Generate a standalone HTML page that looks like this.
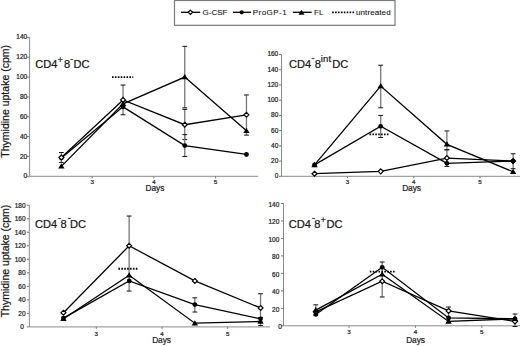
<!DOCTYPE html>
<html><head><meta charset="utf-8"><style>
html,body{margin:0;padding:0;background:#fff;}
body{width:520px;height:346px;overflow:hidden;}
svg{display:block;}
text{font-family:"Liberation Sans",sans-serif;fill:#222;stroke:#222;stroke-width:0.22px;}
.tk{font-size:6.5px;}
.days{font-size:8.4px;letter-spacing:-0.1px;}
.tx{font-size:6.2px;}
.tm{font-size:11.1px;fill:#111;}
.ts{font-size:8.5px;fill:#111;}
.th{font-size:9px;fill:#111;stroke-width:0.3px;}
.ti{font-size:9.5px;letter-spacing:0.3px;fill:#111;}
.ylab{font-size:10.5px;fill:#111;}
.leg{font-size:8px;fill:#111;stroke-width:0.1px;}
</style></head><body>
<svg width="520" height="346" viewBox="0 0 520 346">
<rect width="520" height="346" fill="#fff"/>
<line x1="29.6" y1="37.42" x2="29.6" y2="176.3" stroke="#8a8a8a" stroke-width="1"/>
<line x1="29.6" y1="176.3" x2="258.0" y2="176.3" stroke="#8a8a8a" stroke-width="1"/>
<line x1="27.1" y1="176.30" x2="29.6" y2="176.30" stroke="#777" stroke-width="1"/>
<text x="27.15" y="178.34" class="tk" text-anchor="end">0</text>
<line x1="27.1" y1="156.46" x2="29.6" y2="156.46" stroke="#777" stroke-width="1"/>
<text x="27.15" y="158.50" class="tk" text-anchor="end">20</text>
<line x1="27.1" y1="136.62" x2="29.6" y2="136.62" stroke="#777" stroke-width="1"/>
<text x="27.15" y="138.66" class="tk" text-anchor="end">40</text>
<line x1="27.1" y1="116.78" x2="29.6" y2="116.78" stroke="#777" stroke-width="1"/>
<text x="27.15" y="118.82" class="tk" text-anchor="end">60</text>
<line x1="27.1" y1="96.94" x2="29.6" y2="96.94" stroke="#777" stroke-width="1"/>
<text x="27.15" y="98.98" class="tk" text-anchor="end">80</text>
<line x1="27.1" y1="77.10" x2="29.6" y2="77.10" stroke="#777" stroke-width="1"/>
<text x="27.15" y="79.14" class="tk" text-anchor="end">100</text>
<line x1="27.1" y1="57.26" x2="29.6" y2="57.26" stroke="#777" stroke-width="1"/>
<text x="27.15" y="59.30" class="tk" text-anchor="end">120</text>
<line x1="27.1" y1="37.42" x2="29.6" y2="37.42" stroke="#777" stroke-width="1"/>
<text x="27.15" y="39.46" class="tk" text-anchor="end">140</text>
<line x1="92.20" y1="176.3" x2="92.20" y2="178.3" stroke="#777" stroke-width="1"/>
<text x="92.20" y="184.0" class="tx" text-anchor="middle">3</text>
<line x1="153.90" y1="176.3" x2="153.90" y2="178.3" stroke="#777" stroke-width="1"/>
<text x="153.90" y="184.0" class="tx" text-anchor="middle">4</text>
<line x1="215.60" y1="176.3" x2="215.60" y2="178.3" stroke="#777" stroke-width="1"/>
<text x="215.60" y="184.0" class="tx" text-anchor="middle">5</text>
<text x="154.9" y="190.8" class="days" text-anchor="middle">Days</text>
<text x="35.15" y="67.8" class="tm">CD4</text>
<text x="57.7" y="62.5" class="ts">+</text>
<text x="63.9" y="67.8" class="tm">8</text>
<text x="70.35" y="61.6" class="th">-</text>
<text x="73.5" y="67.8" class="tm">DC</text>
<text x="0" y="0" class="ylab" text-anchor="middle" transform="translate(8.5 101.35) rotate(-90)">Thymidine uptake (cpm)</text>
<line x1="61.35" y1="152.49" x2="61.35" y2="162.41" stroke="#777" stroke-width="1.3"/>
<line x1="58.95" y1="152.49" x2="63.75" y2="152.49" stroke="#111" stroke-width="1.0"/>
<line x1="58.95" y1="162.41" x2="63.75" y2="162.41" stroke="#111" stroke-width="1.0"/>
<line x1="123.05" y1="85.04" x2="123.05" y2="114.80" stroke="#777" stroke-width="1.3"/>
<line x1="120.65" y1="85.04" x2="125.45" y2="85.04" stroke="#111" stroke-width="1.0"/>
<line x1="120.65" y1="114.80" x2="125.45" y2="114.80" stroke="#111" stroke-width="1.0"/>
<line x1="184.75" y1="46.35" x2="184.75" y2="107.85" stroke="#777" stroke-width="1.3"/>
<line x1="182.35" y1="46.35" x2="187.15" y2="46.35" stroke="#111" stroke-width="1.0"/>
<line x1="182.35" y1="107.85" x2="187.15" y2="107.85" stroke="#111" stroke-width="1.0"/>
<line x1="184.75" y1="109.34" x2="184.75" y2="139.60" stroke="#777" stroke-width="1.3"/>
<line x1="182.35" y1="109.34" x2="187.15" y2="109.34" stroke="#111" stroke-width="1.0"/>
<line x1="182.35" y1="139.60" x2="187.15" y2="139.60" stroke="#111" stroke-width="1.0"/>
<line x1="184.75" y1="134.64" x2="184.75" y2="156.46" stroke="#777" stroke-width="1.3"/>
<line x1="182.35" y1="134.64" x2="187.15" y2="134.64" stroke="#111" stroke-width="1.0"/>
<line x1="182.35" y1="156.46" x2="187.15" y2="156.46" stroke="#111" stroke-width="1.0"/>
<line x1="246.45" y1="94.96" x2="246.45" y2="135.13" stroke="#777" stroke-width="1.3"/>
<line x1="244.05" y1="94.96" x2="248.85" y2="94.96" stroke="#111" stroke-width="1.0"/>
<line x1="244.05" y1="135.13" x2="248.85" y2="135.13" stroke="#111" stroke-width="1.0"/>
<line x1="112" y1="77.10" x2="133.2" y2="77.10" stroke="#000" stroke-width="1.8" stroke-dasharray="1.6 1.3"/>
<polyline points="61.35,157.95 123.05,106.86 184.75,145.55 246.45,154.48" fill="none" stroke="#000" stroke-width="1.3" stroke-linejoin="miter"/>
<circle cx="61.35" cy="157.95" r="2.4" fill="#000"/>
<circle cx="123.05" cy="106.86" r="2.4" fill="#000"/>
<circle cx="184.75" cy="145.55" r="2.4" fill="#000"/>
<circle cx="246.45" cy="154.48" r="2.4" fill="#000"/>
<polyline points="61.35,157.45 123.05,99.92 184.75,124.72 246.45,114.80" fill="none" stroke="#000" stroke-width="1.3" stroke-linejoin="miter"/>
<path d="M61.35 155.00L63.80 157.45L61.35 159.90L58.90 157.45Z" fill="#fff" stroke="#000" stroke-width="1.2"/>
<path d="M123.05 97.47L125.50 99.92L123.05 102.37L120.60 99.92Z" fill="#fff" stroke="#000" stroke-width="1.2"/>
<path d="M184.75 122.27L187.20 124.72L184.75 127.17L182.30 124.72Z" fill="#fff" stroke="#000" stroke-width="1.2"/>
<path d="M246.45 112.35L248.90 114.80L246.45 117.25L244.00 114.80Z" fill="#fff" stroke="#000" stroke-width="1.2"/>
<polyline points="61.35,166.38 123.05,103.88 184.75,77.10 246.45,130.67" fill="none" stroke="#000" stroke-width="1.3" stroke-linejoin="miter"/>
<path d="M61.35 163.34L64.55 168.62L58.15 168.62Z" fill="#000"/>
<path d="M123.05 100.84L126.25 106.12L119.85 106.12Z" fill="#000"/>
<path d="M184.75 74.06L187.95 79.34L181.55 79.34Z" fill="#000"/>
<path d="M246.45 127.63L249.65 132.91L243.25 132.91Z" fill="#000"/>
<line x1="281.5" y1="54.54" x2="281.5" y2="176.3" stroke="#8a8a8a" stroke-width="1"/>
<line x1="281.5" y1="176.3" x2="520.0" y2="176.3" stroke="#8a8a8a" stroke-width="1"/>
<line x1="279.0" y1="176.30" x2="281.5" y2="176.30" stroke="#777" stroke-width="1"/>
<text x="278.25" y="178.24" class="tk" text-anchor="end">0</text>
<line x1="279.0" y1="161.08" x2="281.5" y2="161.08" stroke="#777" stroke-width="1"/>
<text x="278.25" y="163.02" class="tk" text-anchor="end">20</text>
<line x1="279.0" y1="145.86" x2="281.5" y2="145.86" stroke="#777" stroke-width="1"/>
<text x="278.25" y="147.80" class="tk" text-anchor="end">40</text>
<line x1="279.0" y1="130.64" x2="281.5" y2="130.64" stroke="#777" stroke-width="1"/>
<text x="278.25" y="132.58" class="tk" text-anchor="end">60</text>
<line x1="279.0" y1="115.42" x2="281.5" y2="115.42" stroke="#777" stroke-width="1"/>
<text x="278.25" y="117.36" class="tk" text-anchor="end">80</text>
<line x1="279.0" y1="100.20" x2="281.5" y2="100.20" stroke="#777" stroke-width="1"/>
<text x="278.25" y="102.14" class="tk" text-anchor="end">100</text>
<line x1="279.0" y1="84.98" x2="281.5" y2="84.98" stroke="#777" stroke-width="1"/>
<text x="278.25" y="86.92" class="tk" text-anchor="end">120</text>
<line x1="279.0" y1="69.76" x2="281.5" y2="69.76" stroke="#777" stroke-width="1"/>
<text x="278.25" y="71.70" class="tk" text-anchor="end">140</text>
<line x1="279.0" y1="54.54" x2="281.5" y2="54.54" stroke="#777" stroke-width="1"/>
<text x="278.25" y="56.48" class="tk" text-anchor="end">160</text>
<line x1="347.60" y1="176.3" x2="347.60" y2="178.3" stroke="#777" stroke-width="1"/>
<text x="347.60" y="184.3" class="tx" text-anchor="middle">3</text>
<line x1="413.80" y1="176.3" x2="413.80" y2="178.3" stroke="#777" stroke-width="1"/>
<text x="413.80" y="184.3" class="tx" text-anchor="middle">4</text>
<line x1="480.00" y1="176.3" x2="480.00" y2="178.3" stroke="#777" stroke-width="1"/>
<text x="480.00" y="184.3" class="tx" text-anchor="middle">5</text>
<text x="411.5" y="191.0" class="days" text-anchor="middle">Days</text>
<text x="288.95" y="68.2" class="tm">CD4</text>
<text x="311.55" y="61.3" class="th">-</text>
<text x="314.8" y="68.2" class="tm">8</text>
<text x="320.64" y="61.5" class="ti">int</text>
<text x="332.2" y="68.2" class="tm">DC</text>
<line x1="380.70" y1="65.19" x2="380.70" y2="107.81" stroke="#777" stroke-width="1.3"/>
<line x1="378.30" y1="65.19" x2="383.10" y2="65.19" stroke="#111" stroke-width="1.0"/>
<line x1="378.30" y1="107.81" x2="383.10" y2="107.81" stroke="#111" stroke-width="1.0"/>
<line x1="380.70" y1="115.42" x2="380.70" y2="137.49" stroke="#777" stroke-width="1.3"/>
<line x1="378.30" y1="115.42" x2="383.10" y2="115.42" stroke="#111" stroke-width="1.0"/>
<line x1="378.30" y1="137.49" x2="383.10" y2="137.49" stroke="#111" stroke-width="1.0"/>
<line x1="446.90" y1="130.94" x2="446.90" y2="149.82" stroke="#777" stroke-width="1.3"/>
<line x1="444.50" y1="130.94" x2="449.30" y2="130.94" stroke="#111" stroke-width="1.0"/>
<line x1="444.50" y1="149.82" x2="449.30" y2="149.82" stroke="#111" stroke-width="1.0"/>
<line x1="446.90" y1="149.82" x2="446.90" y2="166.41" stroke="#777" stroke-width="1.3"/>
<line x1="444.50" y1="149.82" x2="449.30" y2="149.82" stroke="#111" stroke-width="1.0"/>
<line x1="444.50" y1="166.41" x2="449.30" y2="166.41" stroke="#111" stroke-width="1.0"/>
<line x1="513.10" y1="153.77" x2="513.10" y2="168.69" stroke="#777" stroke-width="1.3"/>
<line x1="510.70" y1="153.77" x2="515.50" y2="153.77" stroke="#111" stroke-width="1.0"/>
<line x1="510.70" y1="168.69" x2="515.50" y2="168.69" stroke="#111" stroke-width="1.0"/>
<line x1="369.5" y1="134.44" x2="389" y2="134.44" stroke="#000" stroke-width="1.8" stroke-dasharray="1.6 1.3"/>
<polyline points="314.50,173.71 380.70,171.35 446.90,158.04 513.10,161.08" fill="none" stroke="#000" stroke-width="1.3" stroke-linejoin="miter"/>
<path d="M314.50 171.26L316.95 173.71L314.50 176.16L312.05 173.71Z" fill="#fff" stroke="#000" stroke-width="1.2"/>
<path d="M380.70 168.90L383.15 171.35L380.70 173.80L378.25 171.35Z" fill="#fff" stroke="#000" stroke-width="1.2"/>
<path d="M446.90 155.59L449.35 158.04L446.90 160.49L444.45 158.04Z" fill="#fff" stroke="#000" stroke-width="1.2"/>
<path d="M513.10 158.63L515.55 161.08L513.10 163.53L510.65 161.08Z" fill="#fff" stroke="#000" stroke-width="1.2"/>
<polyline points="314.50,164.89 380.70,126.30 446.90,163.36 513.10,161.08" fill="none" stroke="#000" stroke-width="1.3" stroke-linejoin="miter"/>
<circle cx="314.50" cy="164.89" r="2.4" fill="#000"/>
<circle cx="380.70" cy="126.30" r="2.4" fill="#000"/>
<circle cx="446.90" cy="163.36" r="2.4" fill="#000"/>
<circle cx="513.10" cy="161.08" r="2.4" fill="#000"/>
<polyline points="314.50,164.89 380.70,86.12 446.90,144.34 513.10,171.73" fill="none" stroke="#000" stroke-width="1.3" stroke-linejoin="miter"/>
<path d="M314.50 161.85L317.70 167.13L311.30 167.13Z" fill="#000"/>
<path d="M380.70 83.08L383.90 88.36L377.50 88.36Z" fill="#000"/>
<path d="M446.90 141.30L450.10 146.58L443.70 146.58Z" fill="#000"/>
<path d="M513.10 168.69L516.30 173.97L509.90 173.97Z" fill="#000"/>
<line x1="29.3" y1="205.22" x2="29.3" y2="326.9" stroke="#8a8a8a" stroke-width="1"/>
<line x1="29.3" y1="326.9" x2="270.0" y2="326.9" stroke="#8a8a8a" stroke-width="1"/>
<line x1="26.8" y1="326.90" x2="29.3" y2="326.90" stroke="#777" stroke-width="1"/>
<text x="23.75" y="329.44" class="tk" text-anchor="end">0</text>
<line x1="26.8" y1="313.38" x2="29.3" y2="313.38" stroke="#777" stroke-width="1"/>
<text x="25.55" y="315.92" class="tk" text-anchor="end">20</text>
<line x1="26.8" y1="299.86" x2="29.3" y2="299.86" stroke="#777" stroke-width="1"/>
<text x="25.55" y="302.40" class="tk" text-anchor="end">40</text>
<line x1="26.8" y1="286.34" x2="29.3" y2="286.34" stroke="#777" stroke-width="1"/>
<text x="25.55" y="288.88" class="tk" text-anchor="end">60</text>
<line x1="26.8" y1="272.82" x2="29.3" y2="272.82" stroke="#777" stroke-width="1"/>
<text x="25.55" y="275.36" class="tk" text-anchor="end">80</text>
<line x1="26.8" y1="259.30" x2="29.3" y2="259.30" stroke="#777" stroke-width="1"/>
<text x="25.55" y="261.84" class="tk" text-anchor="end">100</text>
<line x1="26.8" y1="245.78" x2="29.3" y2="245.78" stroke="#777" stroke-width="1"/>
<text x="25.55" y="248.32" class="tk" text-anchor="end">120</text>
<line x1="26.8" y1="232.26" x2="29.3" y2="232.26" stroke="#777" stroke-width="1"/>
<text x="25.55" y="234.80" class="tk" text-anchor="end">140</text>
<line x1="26.8" y1="218.74" x2="29.3" y2="218.74" stroke="#777" stroke-width="1"/>
<text x="25.55" y="221.28" class="tk" text-anchor="end">160</text>
<line x1="26.8" y1="205.22" x2="29.3" y2="205.22" stroke="#777" stroke-width="1"/>
<text x="25.55" y="207.76" class="tk" text-anchor="end">180</text>
<line x1="96.30" y1="326.9" x2="96.30" y2="328.9" stroke="#777" stroke-width="1"/>
<text x="96.30" y="336.2" class="tx" text-anchor="middle">3</text>
<line x1="162.00" y1="326.9" x2="162.00" y2="328.9" stroke="#777" stroke-width="1"/>
<text x="162.00" y="336.2" class="tx" text-anchor="middle">4</text>
<line x1="227.70" y1="326.9" x2="227.70" y2="328.9" stroke="#777" stroke-width="1"/>
<text x="227.70" y="336.2" class="tx" text-anchor="middle">5</text>
<text x="161.5" y="342.8" class="days" text-anchor="middle">Days</text>
<text x="34.95" y="227.6" class="tm">CD4</text>
<text x="57.95" y="221.0" class="th">-</text>
<text x="60.6" y="227.6" class="tm">8</text>
<text x="67.65" y="221.0" class="th">-</text>
<text x="70.1" y="227.6" class="tm">DC</text>
<text x="0" y="0" class="ylab" text-anchor="middle" transform="translate(8.5 261.0) rotate(-90)">Thymidine uptake (cpm)</text>
<line x1="129.15" y1="216.04" x2="129.15" y2="291.07" stroke="#777" stroke-width="1.3"/>
<line x1="126.75" y1="216.04" x2="131.55" y2="216.04" stroke="#111" stroke-width="1.0"/>
<line x1="126.75" y1="291.07" x2="131.55" y2="291.07" stroke="#111" stroke-width="1.0"/>
<line x1="194.85" y1="297.83" x2="194.85" y2="312.03" stroke="#777" stroke-width="1.3"/>
<line x1="192.45" y1="297.83" x2="197.25" y2="297.83" stroke="#111" stroke-width="1.0"/>
<line x1="192.45" y1="312.03" x2="197.25" y2="312.03" stroke="#111" stroke-width="1.0"/>
<line x1="260.55" y1="293.78" x2="260.55" y2="322.17" stroke="#777" stroke-width="1.3"/>
<line x1="258.15" y1="293.78" x2="262.95" y2="293.78" stroke="#111" stroke-width="1.0"/>
<line x1="258.15" y1="322.17" x2="262.95" y2="322.17" stroke="#111" stroke-width="1.0"/>
<line x1="260.55" y1="317.44" x2="260.55" y2="325.55" stroke="#777" stroke-width="1.3"/>
<line x1="258.15" y1="317.44" x2="262.95" y2="317.44" stroke="#111" stroke-width="1.0"/>
<line x1="258.15" y1="325.55" x2="262.95" y2="325.55" stroke="#111" stroke-width="1.0"/>
<line x1="118.4" y1="268.76" x2="138.3" y2="268.76" stroke="#000" stroke-width="1.8" stroke-dasharray="1.6 1.3"/>
<polyline points="63.45,312.70 129.15,245.78 194.85,280.93 260.55,307.97" fill="none" stroke="#000" stroke-width="1.3" stroke-linejoin="miter"/>
<path d="M63.45 310.25L65.90 312.70L63.45 315.15L61.00 312.70Z" fill="#fff" stroke="#000" stroke-width="1.2"/>
<path d="M129.15 243.33L131.60 245.78L129.15 248.23L126.70 245.78Z" fill="#fff" stroke="#000" stroke-width="1.2"/>
<path d="M194.85 278.48L197.30 280.93L194.85 283.38L192.40 280.93Z" fill="#fff" stroke="#000" stroke-width="1.2"/>
<path d="M260.55 305.52L263.00 307.97L260.55 310.42L258.10 307.97Z" fill="#fff" stroke="#000" stroke-width="1.2"/>
<polyline points="63.45,318.11 129.15,280.93 194.85,304.59 260.55,318.79" fill="none" stroke="#000" stroke-width="1.3" stroke-linejoin="miter"/>
<circle cx="63.45" cy="318.11" r="2.4" fill="#000"/>
<circle cx="129.15" cy="280.93" r="2.4" fill="#000"/>
<circle cx="194.85" cy="304.59" r="2.4" fill="#000"/>
<circle cx="260.55" cy="318.79" r="2.4" fill="#000"/>
<polyline points="63.45,318.79 129.15,275.19 194.85,323.18 260.55,321.49" fill="none" stroke="#000" stroke-width="1.3" stroke-linejoin="miter"/>
<path d="M63.45 315.75L66.65 321.03L60.25 321.03Z" fill="#000"/>
<path d="M129.15 272.15L132.35 277.43L125.95 277.43Z" fill="#000"/>
<path d="M194.85 320.14L198.05 325.42L191.65 325.42Z" fill="#000"/>
<path d="M260.55 318.45L263.75 323.73L257.35 323.73Z" fill="#000"/>
<line x1="283.5" y1="203.51" x2="283.5" y2="325.8" stroke="#8a8a8a" stroke-width="1"/>
<line x1="283.5" y1="325.8" x2="520.0" y2="325.8" stroke="#8a8a8a" stroke-width="1"/>
<line x1="281.0" y1="325.80" x2="283.5" y2="325.80" stroke="#777" stroke-width="1"/>
<text x="281.75" y="329.04" class="tk" text-anchor="end">0</text>
<line x1="281.0" y1="308.33" x2="283.5" y2="308.33" stroke="#777" stroke-width="1"/>
<text x="279.35" y="311.57" class="tk" text-anchor="end">20</text>
<line x1="281.0" y1="290.86" x2="283.5" y2="290.86" stroke="#777" stroke-width="1"/>
<text x="279.35" y="294.10" class="tk" text-anchor="end">40</text>
<line x1="281.0" y1="273.39" x2="283.5" y2="273.39" stroke="#777" stroke-width="1"/>
<text x="279.35" y="276.63" class="tk" text-anchor="end">60</text>
<line x1="281.0" y1="255.92" x2="283.5" y2="255.92" stroke="#777" stroke-width="1"/>
<text x="279.35" y="259.16" class="tk" text-anchor="end">80</text>
<line x1="281.0" y1="238.45" x2="283.5" y2="238.45" stroke="#777" stroke-width="1"/>
<text x="279.35" y="241.69" class="tk" text-anchor="end">100</text>
<line x1="281.0" y1="220.98" x2="283.5" y2="220.98" stroke="#777" stroke-width="1"/>
<text x="279.35" y="224.22" class="tk" text-anchor="end">120</text>
<line x1="281.0" y1="203.51" x2="283.5" y2="203.51" stroke="#777" stroke-width="1"/>
<text x="279.35" y="206.75" class="tk" text-anchor="end">140</text>
<line x1="349.00" y1="325.8" x2="349.00" y2="327.8" stroke="#777" stroke-width="1"/>
<text x="349.00" y="334.2" class="tx" text-anchor="middle">3</text>
<line x1="415.40" y1="325.8" x2="415.40" y2="327.8" stroke="#777" stroke-width="1"/>
<text x="415.40" y="334.2" class="tx" text-anchor="middle">4</text>
<line x1="481.80" y1="325.8" x2="481.80" y2="327.8" stroke="#777" stroke-width="1"/>
<text x="481.80" y="334.2" class="tx" text-anchor="middle">5</text>
<text x="415.5" y="342.8" class="days" text-anchor="middle">Days</text>
<text x="288.65" y="227.6" class="tm">CD4</text>
<text x="311.95" y="221.0" class="th">-</text>
<text x="314.3" y="227.6" class="tm">8</text>
<text x="320.8" y="223.2" class="ts">+</text>
<text x="326.6" y="227.6" class="tm">DC</text>
<line x1="315.80" y1="304.84" x2="315.80" y2="315.32" stroke="#777" stroke-width="1.3"/>
<line x1="313.40" y1="304.84" x2="318.20" y2="304.84" stroke="#111" stroke-width="1.0"/>
<line x1="313.40" y1="315.32" x2="318.20" y2="315.32" stroke="#111" stroke-width="1.0"/>
<line x1="382.20" y1="262.03" x2="382.20" y2="296.97" stroke="#777" stroke-width="1.3"/>
<line x1="379.80" y1="262.03" x2="384.60" y2="262.03" stroke="#111" stroke-width="1.0"/>
<line x1="379.80" y1="296.97" x2="384.60" y2="296.97" stroke="#111" stroke-width="1.0"/>
<line x1="448.60" y1="307.02" x2="448.60" y2="322.31" stroke="#777" stroke-width="1.3"/>
<line x1="446.20" y1="307.02" x2="451.00" y2="307.02" stroke="#111" stroke-width="1.0"/>
<line x1="446.20" y1="322.31" x2="451.00" y2="322.31" stroke="#111" stroke-width="1.0"/>
<line x1="515.00" y1="314.01" x2="515.00" y2="326.50" stroke="#777" stroke-width="1.3"/>
<line x1="512.60" y1="314.01" x2="517.40" y2="314.01" stroke="#111" stroke-width="1.0"/>
<line x1="512.60" y1="326.50" x2="517.40" y2="326.50" stroke="#111" stroke-width="1.0"/>
<line x1="369.8" y1="271.64" x2="396" y2="271.64" stroke="#000" stroke-width="1.8" stroke-dasharray="1.6 1.3"/>
<polyline points="315.80,311.82 382.20,281.25 448.60,310.95 515.00,321.43" fill="none" stroke="#000" stroke-width="1.3" stroke-linejoin="miter"/>
<path d="M315.80 309.37L318.25 311.82L315.80 314.27L313.35 311.82Z" fill="#fff" stroke="#000" stroke-width="1.2"/>
<path d="M382.20 278.80L384.65 281.25L382.20 283.70L379.75 281.25Z" fill="#fff" stroke="#000" stroke-width="1.2"/>
<path d="M448.60 308.50L451.05 310.95L448.60 313.40L446.15 310.95Z" fill="#fff" stroke="#000" stroke-width="1.2"/>
<path d="M515.00 318.98L517.45 321.43L515.00 323.88L512.55 321.43Z" fill="#fff" stroke="#000" stroke-width="1.2"/>
<polyline points="315.80,314.44 382.20,267.28 448.60,317.94 515.00,318.81" fill="none" stroke="#000" stroke-width="1.3" stroke-linejoin="miter"/>
<circle cx="315.80" cy="314.44" r="2.4" fill="#000"/>
<circle cx="382.20" cy="267.28" r="2.4" fill="#000"/>
<circle cx="448.60" cy="317.94" r="2.4" fill="#000"/>
<circle cx="515.00" cy="318.81" r="2.4" fill="#000"/>
<polyline points="315.80,310.08 382.20,274.26 448.60,321.43 515.00,318.81" fill="none" stroke="#000" stroke-width="1.3" stroke-linejoin="miter"/>
<path d="M315.80 307.04L319.00 312.32L312.60 312.32Z" fill="#000"/>
<path d="M382.20 271.22L385.40 276.50L379.00 276.50Z" fill="#000"/>
<path d="M448.60 318.39L451.80 323.67L445.40 323.67Z" fill="#000"/>
<path d="M515.00 315.77L518.20 321.05L511.80 321.05Z" fill="#000"/>
<rect x="174.5" y="0.5" width="220.5" height="24.8" fill="#fff" stroke="#7a7a7a" stroke-width="1.2"/>
<line x1="181" y1="12.3" x2="200.2" y2="12.3" stroke="#000" stroke-width="1.3"/>
<path d="M190.40 10.10L192.60 12.30L190.40 14.50L188.20 12.30Z" fill="#fff" stroke="#000" stroke-width="1.2"/>
<text x="202.5" y="14.5" class="leg">G-CSF</text>
<line x1="233" y1="12.3" x2="251" y2="12.3" stroke="#000" stroke-width="1.3"/>
<circle cx="241.70" cy="12.30" r="2.1" fill="#000"/>
<text x="252.8" y="14.5" class="leg" letter-spacing="0.45">ProGP-1</text>
<line x1="292.9" y1="12.3" x2="311.7" y2="12.3" stroke="#000" stroke-width="1.3"/>
<path d="M301.50 9.75L304.50 14.70L298.50 14.70Z" fill="#000"/>
<text x="314" y="14.5" class="leg">FL</text>
<line x1="332.2" y1="12.3" x2="354.6" y2="12.3" stroke="#000" stroke-width="1.8" stroke-dasharray="1.6 1.3"/>
<text x="356" y="14.5" class="leg" letter-spacing="0.1">untreated</text>
</svg>
</body></html>
